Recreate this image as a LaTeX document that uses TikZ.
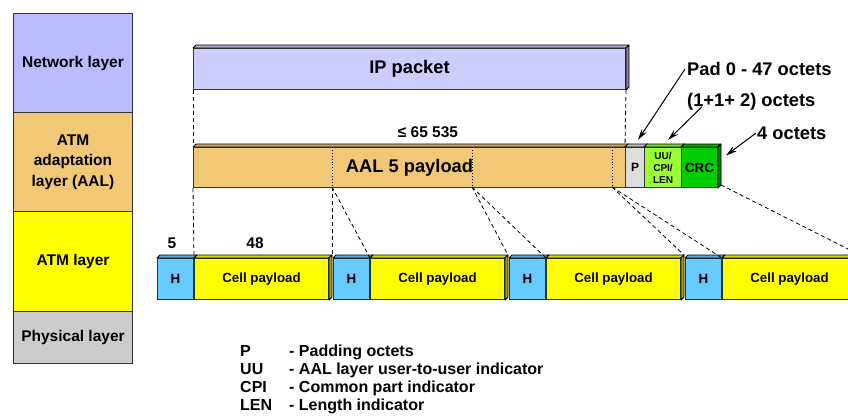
\documentclass[tikz,border=0pt]{standalone}
\usepackage{fontspec}
\setmainfont{Liberation Sans}
\usetikzlibrary{calc,arrows.meta}

\definecolor{netBlue}{RGB}{187,187,255}
\definecolor{ipBlue}{RGB}{204,204,255}
\definecolor{aalTan}{RGB}{241,200,117}
\definecolor{atmYellow}{RGB}{255,255,0}
\definecolor{phyGray}{RGB}{204,204,204}
\definecolor{hdrBlue}{RGB}{102,204,255}
\definecolor{padGray}{RGB}{221,221,221}
\definecolor{uuGreen}{RGB}{153,255,51}
\definecolor{crcGreen}{RGB}{0,204,0}

% top and right faces of a flat block
\newcommand{\slabTop}[2]{\draw[fill=#2!85!black, line width=0.8pt, line join=round] (#1.north west) -- ++(3,-3) -- ($(#1.north east)+(3,-3)$) -- (#1.north east) -- cycle;}
\newcommand{\slabSide}[2]{\draw[fill=#2!65!black, line width=0.8pt, line join=round] (#1.north east) -- ++(3,-3) -- ($(#1.south east)+(3,-3)$) -- (#1.south east) -- cycle;}

\begin{document}
\begin{tikzpicture}[x=1pt, y=-1pt,
        layerBox/.style={rectangle, draw=black!80, line width=1pt, minimum width=119, inner sep=0pt, anchor=north west, font=\fontsize{15.5}{20.5}\selectfont\bfseries, align=center},
        slab/.style={rectangle, draw=black!80, line width=1pt, inner sep=0pt, anchor=north west, font=\fontsize{18.3}{22}\selectfont\bfseries},
        cellHead/.style={slab, fill=hdrBlue, minimum width=36, minimum height=41, font=\fontsize{13.3}{15}\selectfont\bfseries},
        cellBody/.style={slab, fill=atmYellow, minimum width=134, minimum height=41, font=\fontsize{13.3}{15}\selectfont\bfseries},
        cutLine/.style={dash pattern=on 4pt off 3pt, line width=0.8pt},
        note/.style={inner sep=0pt, font=\fontsize{18.3}{22}\selectfont\bfseries},
        smallNote/.style={inner sep=0pt, font=\fontsize{15.5}{18}\selectfont\bfseries},
        pointer/.style={-{Stealth[length=11pt,width=6pt]}, line width=1pt}
    ]
        \useasboundingbox (0,0) rectangle (848,415);

        % layer stack
        \node[layerBox, fill=netBlue, minimum height=99] (netLayer) at (13,13) {Network layer};
        \node[layerBox, fill=aalTan, minimum height=99] (aalLayer) at (13,112) {ATM\\adaptation\\layer (AAL)};
        \node[layerBox, fill=atmYellow, minimum height=100] (atmLayer) at (13,211) {ATM layer};
        \node[layerBox, fill=phyGray, minimum height=52] (phyLayer) at (13,311) {Physical layer};

        % IP packet
        \node[slab, fill=ipBlue, minimum width=432, minimum height=41] (ip) at (193,48) {IP packet};
        \slabTop{ip}{ipBlue}
        \slabSide{ip}{ipBlue}

        % AAL 5 frame
        \node[slab, fill=aalTan, minimum width=432, minimum height=40] (pay) at (193,147) {AAL 5 payload};
        \node[slab, fill=padGray, minimum width=19, minimum height=40, font=\fontsize{12}{14}\selectfont\bfseries] (pad) at (625,147) {P};
        \node[slab, fill=uuGreen, minimum width=37, minimum height=40, align=center, font=\fontsize{10}{12}\selectfont\bfseries] (uu) at (644,147) {UU/\\CPI/\\LEN};
        \node[slab, fill=crcGreen, minimum width=36, minimum height=40, font=\fontsize{13.3}{15}\selectfont\bfseries] (crc) at (681,147) {CRC};
        \foreach \n/\c in {pay/aalTan, pad/padGray, uu/uuGreen, crc/crcGreen} {
            \slabTop{\n}{\c}
        }
        \slabSide{crc}{crcGreen}
        \foreach \i/\x in {1/332, 2/472, 3/612} {
            \draw[dotted, line width=0.9pt] (\x,147) -- (\x,187);
            \coordinate (cut\i) at (\x,187);
        }

        % ATM cells
        \foreach \k in {1,...,4} {
            \node[cellHead] (head\k) at ({157+176*(\k-1)},258) {H};
            \node[cellBody] (body\k) at (head\k.north east) {Cell payload};
            \slabTop{head\k}{hdrBlue}
            \slabTop{body\k}{atmYellow}
            \slabSide{body\k}{atmYellow}
        }

        % mapping lines
        \draw[cutLine] (ip.south west) -- (pay.north west);
        \draw[cutLine] (ip.south east) -- (pad.north west);
        \draw[cutLine] (pay.south west) -- (body1.north west);
        \foreach \i/\j in {1/2, 2/3, 3/4} {
            \draw[cutLine] (cut\i) -- ($(body\i.north east)+(3,-3)$);
            \draw[cutLine] (cut\i) -- (body\j.north west);
        }
        \draw[cutLine] ($(crc.south east)+(3,-3)$) -- ($(body4.north east)+(3,-3)$);

        % sizes and notes
        \node[smallNote] (sizeNote) at (428,132) {≤ 65 535};
        \node[smallNote] (hdrSize) at (172,243) {5};
        \node[smallNote] (cellSize) at (255,243) {48};
        \node[note, anchor=west] (padNote) at (687,69) {Pad 0 - 47 octets};
        \node[note, anchor=west] (ctrlNote) at (687,102) {(1+1+ 2) octets};
        \node[note, anchor=west] (crcNote) at (757,133) {4 octets};
        \draw[pointer] ([xshift=-2pt]padNote.west) -- ([xshift=3pt,yshift=7pt]pad.north);
        \draw[pointer] ([xshift=15pt,yshift=4pt]ctrlNote.south west) -- ([xshift=5pt,yshift=7pt]uu.north);
        \draw[pointer] ([xshift=-1pt]crcNote.west) -- ([xshift=8pt,yshift=12pt]crc.east);

        % legend
        \node[anchor=base west, inner sep=0pt, font=\fontsize{16}{18.3}\selectfont\bfseries] (legend) at (240,356) {\begin{tabular}[t]{@{}p{49pt}@{}l@{}}
            P & - Padding octets\\
            UU & - AAL layer user-to-user indicator\\
            CPI & - Common part indicator\\
            LEN & - Length indicator
        \end{tabular}};
    \end{tikzpicture}
\end{document}
